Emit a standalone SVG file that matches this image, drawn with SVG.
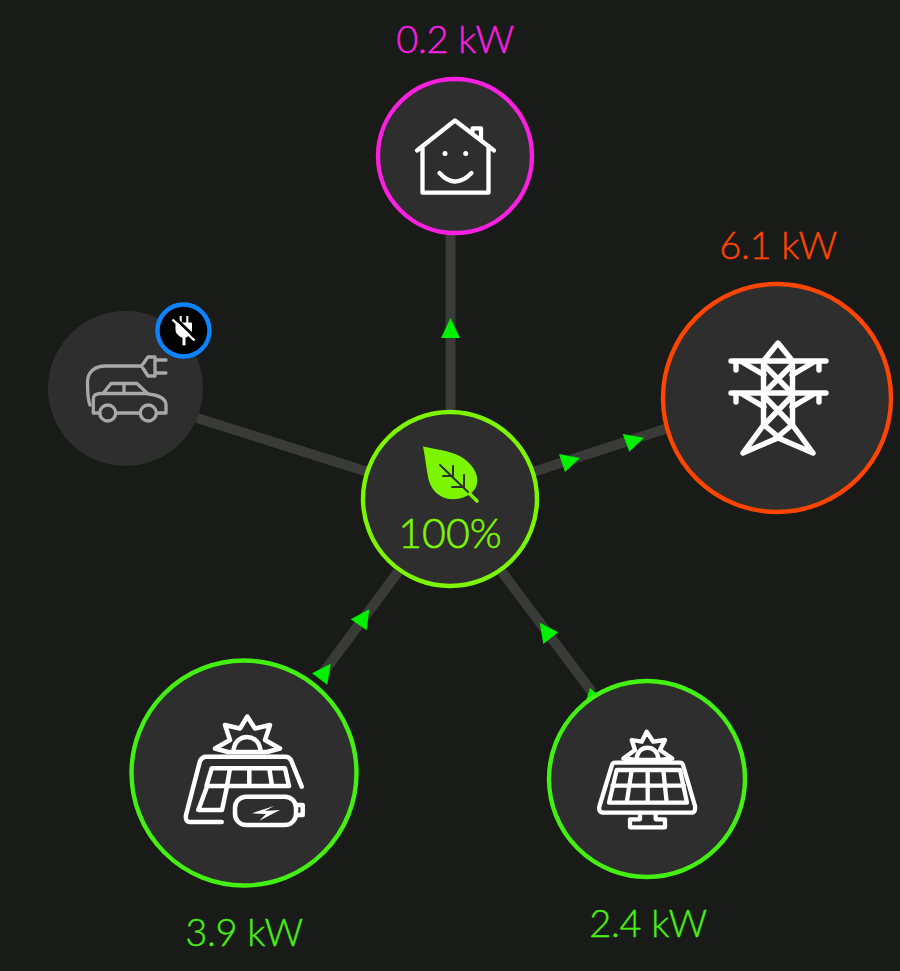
<svg xmlns="http://www.w3.org/2000/svg" width="900" height="971" viewBox="0 0 900 971">
<style>
.disc{fill:#2e2e2e;stroke-width:4.400}
.ic{fill:none;stroke:#fff;stroke-width:4.300;stroke-linecap:round;stroke-linejoin:round}
.lbl{font-family:Lato,"Open Sans",sans-serif;font-weight:300;font-size:38px;text-anchor:middle;letter-spacing:-.3px;stroke-width:.4px}
.ln{stroke:#3a3b39;stroke-width:10;fill:none}
.ar{fill:#00f000}
</style>
<rect width="900" height="971" fill="#191b19"/>
<g id="connectors">
<path class="ln" d="M450.500 235V412"/>
<path class="ln" d="M197 418L368 472"/>
<path class="ln" d="M533 472L668 428"/>
<path class="ln" d="M398 572L320 677"/>
<path class="ln" d="M502 572L592 692"/>
<polygon class="ar" points="450.500,318 460,338 441,338"/>
<polygon class="ar" points="559,454 580,458 565,472"/>
<polygon class="ar" points="622.700,434 644,437.700 629.300,451.700"/>
<polygon class="ar" points="369.300,609.300 350.700,619.300 366.700,630.300"/>
<polygon class="ar" points="330.700,663.700 312,673.300 327.300,684.700"/>
<polygon class="ar" points="539.700,622.700 558.300,632.300 543.300,644"/>
<polygon class="ar" points="590,688 602,698 585,704"/>
</g>
<g id="home">
<text class="lbl" x="455" y="53" fill="#fb1fe0" stroke="#fb1fe0">0.2 kW</text>
<circle class="disc" cx="455" cy="156" r="77" stroke="#fb1fe0"/>
<path class="ic" d="M417 150.500L455 120.500L494 150.500M422.500 146V192.700H488.500V146M472.700 131V128.300H481V139"/>
<path class="ic" d="M439.500 173Q455 190 471.500 173"/>
<circle cx="445" cy="153.500" r="2.500" fill="#fff"/><circle cx="465.700" cy="153.500" r="2.500" fill="#fff"/>
</g>
<g id="car">
<circle cx="125.500" cy="388.500" r="77.500" fill="#2e2e2e"/>
<g class="ic" style="stroke:#a8a8a8;stroke-width:3.300">
<path d="M90 405C87.500 400 87.500 392 87.500 382C87.500 372 95 366 105 366H141.500"/>
<path d="M141.500 366L148 357H155V376H148ZM155 360H166M155 373H166"/>
<path d="M100 413H93.300V399Q93.300 394 100 393.500H103L111 383.500H137L148 394Q166 396 166 405V413H157M140 413H116M103 393.500H148M124 383.500V393.500"/>
<circle cx="107.700" cy="413" r="8"/><circle cx="148.300" cy="413" r="8"/>
</g>
</g>
<g id="car-badge">
<circle cx="183.500" cy="330.500" r="26" fill="#000" stroke="#0a84ff" stroke-width="4.400"/>
<path d="M180.700 316V323M187.300 316V323" stroke="#fff" stroke-width="2"/>
<path d="M176 323H191.500V330Q191.500 335 185 337.500V345H183V337.500Q176 335 176 330Z" fill="#fff" stroke="#fff" stroke-width="1"/>
<path d="M174.500 317.500L196.500 338.500" stroke="#000" stroke-width="3"/>
<path d="M172.500 319.500L194.500 340.500" stroke="#fff" stroke-width="2.400"/>
</g>
<g id="grid">
<text class="lbl" x="778" y="259" fill="#ff4500" stroke="#ff4500">6.1 kW</text>
<circle class="disc" cx="777" cy="398" r="114" stroke="#ff4500"/>
<g class="ic" style="stroke-width:5.400">
<path d="M731 361H826M731 393H826M736 361V370M819 361V370M736 393V402M819 393V402"/>
<path d="M763.500 361L778 343L792.500 361M763.500 361V425L743 453L780 437M792.500 361V425L813 453L776 437"/>
<path d="M764 365L792 393M792 365L764 393M764 396L792 425L775 439M792 396L764 425L781 439M742 362L764 375M814 362L792 375M742 394L764 407M814 394L792 407"/>
</g>
</g>
<g id="core">
<circle class="disc" cx="450" cy="499" r="87" stroke="#7df500"/>
<path d="M423 446.500C440 450 455 452 463 458C475 466 480 478 476 487C472 496 460 500 449 499C437 497 430 488 428 477C426 466 425 456 423 446.500Z" fill="#7df500"/>
<path d="M466 490L477 501" stroke="#7df500" stroke-width="3.500" stroke-linecap="round"/>
<path d="M440 465L468 492M453 466V476M443 476H453M464 475V487M452 487H464" fill="none" stroke="#2e2e2e" stroke-width="2" stroke-linecap="round"/>
<text x="450" y="548" font-family="Lato,sans-serif" font-weight="300" font-size="41" text-anchor="middle" fill="#7df500" stroke="#7df500" stroke-width=".6">100%</text>
</g>
<g id="battery">
<text class="lbl" x="244" y="946" fill="#48ee14" stroke="#48ee14">3.9 kW</text>
<circle class="disc" cx="244" cy="773" r="112.500" stroke="#44f011"/>
<g class="ic" style="stroke-width:4.500">
<path d="M233.500 751.500C234 732 260 732 260.500 751.500M215 748.500L230 740L225 725L240 728.500L247.300 716.500L255 728.500L270 725L265 740L280 748.500L267 752H228Z"/>
<path d="M301.700 786.700L291 760Q289 756.700 285 756.700H206Q202 756.700 200 761L186 815Q185 822 190 822H221.700"/>
<path d="M211.700 768.300H285L289 786H206.500L211.700 768.300ZM206.500 788L198.300 810H222L226.700 788M230 768.300L227 786M249.300 768.300V786M269.300 768.300L272 786"/>
<rect x="235" y="796.700" width="61" height="28.300" rx="11"/>
<path d="M296 805H302.700V815H296"/>
</g>
<path d="M251.700 813.300L274 806L265 811L280 810L259.300 820.700L266 814Z" fill="#fff"/>
</g>
<g id="solar">
<text class="lbl" x="648" y="937" fill="#48ee14" stroke="#48ee14">2.4 kW</text>
<circle class="disc" cx="647" cy="779" r="98" stroke="#44f011"/>
<g class="ic">
<path d="M636.700 759C637 744 658 744 658.300 759M623.300 758.500L635 750L631.700 740L641.700 741.700L646.700 731.700L653.300 741.700L665 740L660 750L672.300 758.500L660 760H636Z"/>
<path d="M615 762.700H680Q682 762.700 683 765L695 806Q696 812.700 691 812.700H604Q598 812.700 599.500 806L612 765Q613 762.700 615 762.700Z"/>
<path d="M616.700 770H680L687 802.700H609ZM612.500 785.700H684M631.700 770L626.700 802.700M647.700 770V802.700M663.300 770L666.700 802.700"/>
<path d="M640 813V819.300H630V827.300H665V819.300H655.700V813"/>
</g>
</g>
</svg>
